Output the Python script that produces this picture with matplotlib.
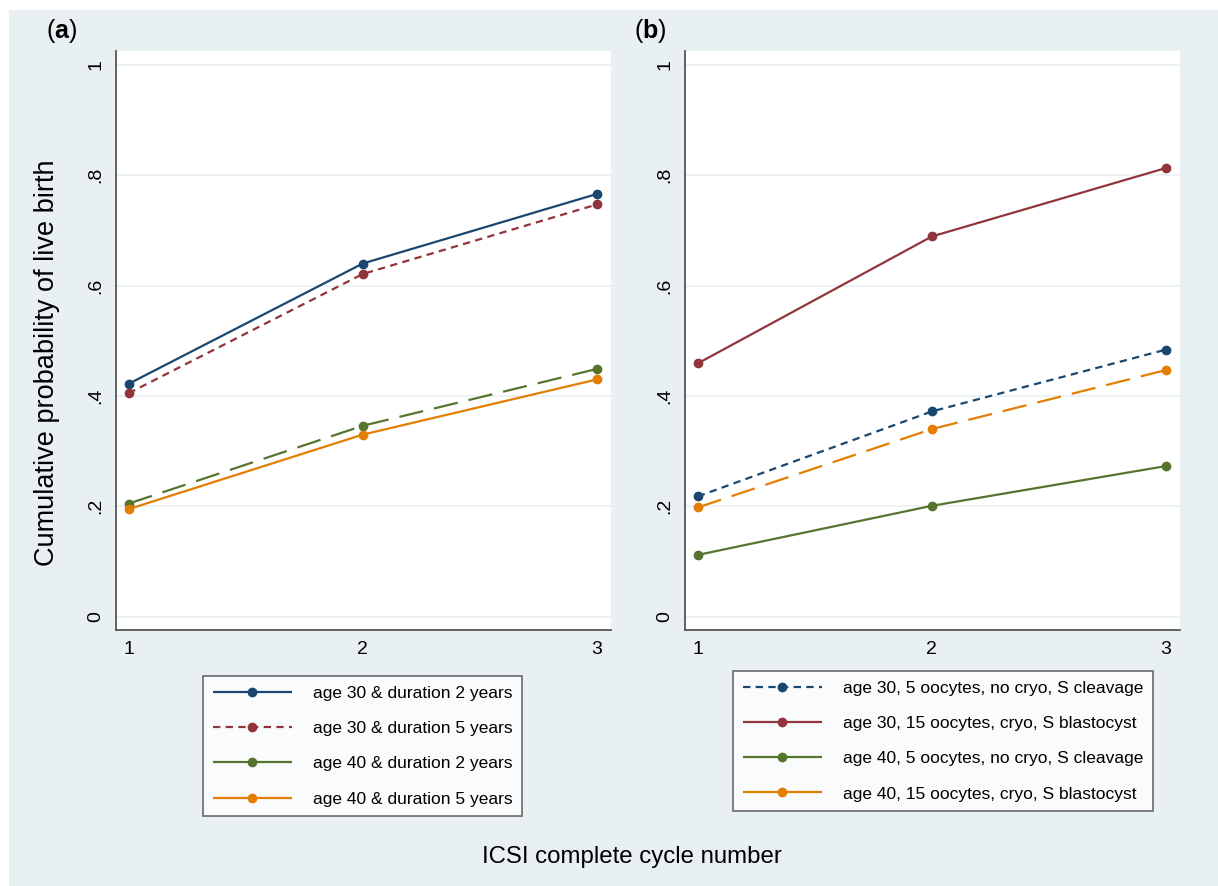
import numpy as np
import matplotlib
matplotlib.use("Agg")
from matplotlib import pyplot as plt
from matplotlib.lines import Line2D
from matplotlib.patches import Rectangle

plt.rcParams['font.family'] = ['Liberation Sans', 'DejaVu Sans']
plt.rcParams['mathtext.fontset'] = 'custom'
plt.rcParams['mathtext.rm'] = 'Liberation Sans'
plt.rcParams['mathtext.bf'] = 'Liberation Sans:bold'

cycles = [1, 2, 3]

# panel (a)
labels_a = ["age 30 & duration 2 years", "age 30 & duration 5 years",
            "age 40 & duration 2 years", "age 40 & duration 5 years"]
a_30_2 = [0.422, 0.640, 0.766]
a_30_5 = [0.405, 0.621, 0.747]
a_40_2 = [0.205, 0.346, 0.449]
a_40_5 = [0.195, 0.330, 0.430]

# panel (b)
labels_b = ["age 30, 5 oocytes, no cryo, S cleavage", "age 30, 15 oocytes, cryo, S blastocyst",
            "age 40, 5 oocytes, no cryo, S cleavage", "age 40, 15 oocytes, cryo, S blastocyst"]
b_30_5 = [0.218, 0.372, 0.484]
b_30_15 = [0.459, 0.689, 0.813]
b_40_5 = [0.112, 0.201, 0.273]
b_40_15 = [0.198, 0.340, 0.447]

yticks = [0, 0.2, 0.4, 0.6, 0.8, 1]
ytick_labels = ["0", ".2", ".4", ".6", ".8", "1"]

navy = "#1a476f"
maroon = "#90353b"
green = "#55752f"
orange = "#e37e00"
bg = "#e8f0f2"

SOLID = (0, ())
SHORT = (0, (3.3, 2.4))
LONG = (0, (11, 5))

W, H = 1218, 886
fig = plt.figure(figsize=(W / 100, H / 100), dpi=100)
fig.patch.set_facecolor("white")
fig.patches.append(Rectangle((9 / W, 0), 1 - 9 / W, 1 - 10 / H, transform=fig.transFigure,
                             facecolor=bg, edgecolor="none", zorder=-10))


def setup(ax):
    ax.set_facecolor("white")
    ax.set_xlim(0.944, 3.06)
    ax.set_ylim(-0.024, 1.025)
    ax.set_xticks(cycles)
    ax.set_yticks(yticks)
    ax.set_yticklabels(ytick_labels, rotation=90, va="center")
    ax.tick_params(axis="both", labelsize=14, length=0, pad=8)
    ax.grid(axis="y", color="#eaf1f3", lw=1.2)
    ax.set_axisbelow(True)
    for s in ["top", "right"]:
        ax.spines[s].set_visible(False)
    for s in ["left", "bottom"]:
        ax.spines[s].set_color("#555555")
        ax.spines[s].set_linewidth(1.3)


def draw(ax, series, colors, styles, legend_styles, labels, box):
    for vals, c, ls in zip(series, colors, styles):
        ax.plot(cycles, vals, color=c, linestyle=ls, lw=1.6, marker="o", ms=6, zorder=3)
    handles = [Line2D([0], [0], color=c, linestyle=ls, lw=1.6, marker="o", ms=6)
               for c, ls in zip(colors, legend_styles)]
    x0, y0, x1, y1 = box
    leg = fig.legend(handles, labels, loc="upper left",
                     bbox_to_anchor=(x0 / W, 1 - y0 / H), fontsize=12.5,
                     frameon=True, fancybox=False, edgecolor="#555555",
                     handlelength=4.6, handletextpad=1.2, labelspacing=1.16,
                     borderpad=0.55, borderaxespad=0)
    leg.get_frame().set_linewidth(1.3)


ax_a = fig.add_axes([115.5 / W, 1 - 630 / H, (611 - 115.5) / W, (630 - 51) / H])
ax_b = fig.add_axes([684.7 / W, 1 - 630 / H, (1180 - 684.7) / W, (630 - 51) / H])
setup(ax_a)
setup(ax_b)

draw(ax_a, [a_30_2, a_30_5, a_40_2, a_40_5], [navy, maroon, green, orange],
     [SOLID, SHORT, LONG, SOLID], [SOLID, SHORT, SOLID, SOLID], labels_a,
     (203, 676, 523, 816))
draw(ax_b, [b_30_5, b_30_15, b_40_5, b_40_15], [navy, maroon, green, orange],
     [SHORT, SOLID, SOLID, LONG], [SHORT, SOLID, SOLID, SOLID], labels_b,
     (733, 671, 1157, 812))

fig.text(47 / W, 1 - 363 / H, "Cumulative probability of live birth", rotation=90,
         ha="center", va="center", fontsize=19.5)
fig.text(632 / W, 1 - 857 / H, "ICSI complete cycle number", ha="center", va="center",
         fontsize=17.3)
fig.text(62 / W, 1 - 31 / H, r"($\mathbf{a}$)", ha="center", va="center", fontsize=18)
fig.text(650 / W, 1 - 31 / H, r"($\mathbf{b}$)", ha="center", va="center", fontsize=18)

fig.savefig("out.png", dpi=100, facecolor=fig.get_facecolor())
